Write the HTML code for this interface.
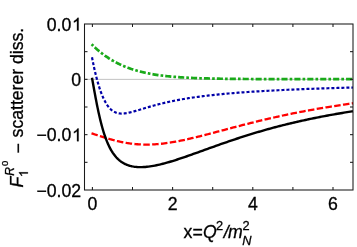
<!DOCTYPE html>
<html><head><meta charset="utf-8"><title>plot</title>
<style>
html,body{margin:0;padding:0;background:#fff;}
svg{display:block;will-change:transform;}
text{font-family:"Liberation Sans",sans-serif;font-size:17.7px;fill:#000;stroke:#000;stroke-width:0.3px;}
.it{font-style:italic;}
</style></head>
<body>
<svg width="357" height="247" viewBox="0 0 357 247">
<rect x="0" y="0" width="357" height="247" fill="#fff"/>
<line x1="84.5" y1="79.38" x2="353.0" y2="79.38" stroke="#b4b4b4" stroke-width="0.8"/>
<g fill="none" stroke-linejoin="round">
<path d="M91.60,44.25 L92.00,44.65 L92.40,45.05 L92.80,45.44 L93.20,45.83 L93.60,46.22 L94.00,46.60 L94.40,46.98 L94.80,47.35 L95.20,47.72 L95.60,48.09 L96.01,48.45 L96.41,48.81 L96.81,49.16 L97.21,49.52 L97.61,49.86 L98.01,50.21 L98.41,50.55 L98.81,50.89 L99.21,51.22 L99.61,51.55 L100.01,51.88 L100.41,52.20 L100.81,52.52 L101.21,52.84 L101.61,53.15 L102.01,53.46 L102.41,53.77 L102.81,54.07 L103.21,54.37 L103.61,54.67 L104.02,54.97 L104.42,55.26 L104.82,55.55 L105.22,55.83 L105.62,56.11 L106.02,56.39 L106.42,56.67 L106.82,56.94 L107.22,57.21 L107.62,57.48 L108.02,57.74 L108.42,58.00 L108.82,58.26 L109.22,58.52 L109.62,58.77 L110.02,59.02 L110.42,59.27 L110.82,59.51 L111.22,59.76 L111.62,60.00 L112.03,60.23 L112.43,60.47 L112.83,60.70 L113.23,60.93 L113.63,61.15 L114.03,61.38 L114.43,61.60 L114.83,61.82 L115.23,62.03 L115.63,62.25 L116.03,62.46 L116.43,62.67 L116.83,62.88 L117.23,63.08 L117.63,63.28 L118.03,63.48 L118.43,63.68 L118.83,63.88 L119.23,64.07 L119.63,64.26 L120.04,64.45 L120.44,64.64 L120.84,64.82 L121.24,65.00 L121.64,65.18 L122.04,65.36 L122.44,65.54 L122.84,65.71 L123.24,65.88 L123.64,66.05 L124.04,66.22 L124.44,66.39 L124.84,66.55 L125.24,66.72 L125.64,66.88 L126.04,67.03 L126.44,67.19 L126.84,67.35 L127.24,67.50 L127.64,67.65 L128.05,67.80 L128.45,67.95 L128.85,68.09 L129.25,68.24 L129.65,68.38 L130.05,68.52 L130.45,68.66 L130.85,68.80 L131.25,68.93 L131.65,69.07 L132.05,69.20 L132.45,69.33 L134.05,69.84 L135.65,70.32 L137.26,70.78 L138.86,71.22 L140.46,71.63 L142.06,72.03 L143.66,72.41 L145.27,72.76 L146.87,73.10 L148.47,73.43 L150.07,73.73 L151.67,74.02 L153.28,74.30 L154.88,74.56 L156.48,74.81 L158.08,75.05 L159.68,75.27 L161.29,75.48 L162.89,75.68 L164.49,75.87 L166.09,76.05 L167.69,76.22 L169.30,76.39 L170.90,76.54 L172.50,76.68 L174.10,76.82 L175.70,76.95 L177.31,77.07 L178.91,77.19 L180.51,77.30 L182.11,77.40 L183.71,77.50 L185.32,77.59 L186.92,77.68 L188.52,77.77 L190.12,77.84 L191.72,77.92 L193.33,77.99 L194.93,78.05 L196.53,78.12 L198.13,78.18 L199.73,78.23 L201.34,78.28 L202.94,78.33 L204.54,78.38 L206.14,78.43 L207.74,78.47 L209.35,78.51 L210.95,78.54 L212.55,78.58 L214.15,78.61 L215.75,78.64 L217.36,78.67 L218.96,78.70 L220.56,78.73 L222.16,78.75 L223.76,78.78 L225.37,78.80 L226.97,78.82 L228.57,78.84 L230.17,78.86 L231.77,78.87 L233.38,78.89 L234.98,78.91 L236.58,78.92 L238.18,78.93 L239.78,78.95 L241.39,78.96 L242.99,78.97 L244.59,78.98 L246.19,78.99 L247.79,79.00 L249.40,79.01 L251.00,79.02 L252.60,79.03 L254.20,79.04 L255.80,79.04 L257.41,79.05 L259.01,79.06 L260.61,79.06 L262.21,79.07 L263.81,79.07 L265.42,79.08 L267.02,79.08 L268.62,79.09 L270.22,79.09 L271.82,79.10 L273.43,79.10 L275.03,79.11 L276.63,79.11 L278.23,79.11 L279.83,79.11 L281.44,79.12 L283.04,79.12 L284.64,79.12 L286.24,79.13 L287.84,79.13 L289.45,79.13 L291.05,79.13 L292.65,79.13 L294.25,79.14 L295.85,79.14 L297.46,79.14 L299.06,79.14 L300.66,79.14 L302.26,79.14 L303.86,79.14 L305.47,79.15 L307.07,79.15 L308.67,79.15 L310.27,79.15 L311.87,79.15 L313.48,79.15 L315.08,79.15 L316.68,79.15 L318.28,79.15 L319.88,79.15 L321.49,79.15 L323.09,79.15 L324.69,79.16 L326.29,79.16 L327.89,79.16 L329.50,79.16 L331.10,79.16 L332.70,79.16 L334.30,79.16 L335.90,79.16 L337.51,79.16 L339.11,79.16 L340.71,79.16 L342.31,79.16 L343.91,79.16 L345.52,79.16 L347.12,79.16 L348.72,79.16 L350.32,79.16 L351.92,79.16 L353.00,79.16" stroke="#1aaa1a" stroke-width="2.7" stroke-dasharray="6.1 2.1 2.65 2.07" stroke-dashoffset="8.5"/>
<path d="M92.00,57.27 L92.40,59.37 L92.80,61.40 L93.20,63.38 L93.60,65.30 L94.00,67.16 L94.40,68.97 L94.80,70.73 L95.20,72.45 L95.60,74.11 L96.00,75.72 L96.41,77.29 L96.81,78.82 L97.21,80.30 L97.61,81.74 L98.01,83.14 L98.41,84.50 L98.81,85.81 L99.21,87.09 L99.61,88.32 L100.01,89.52 L100.41,90.68 L100.81,91.80 L101.21,92.88 L101.61,93.93 L102.01,94.94 L102.41,95.92 L102.81,96.86 L103.21,97.77 L103.61,98.64 L104.02,99.48 L104.42,100.29 L104.82,101.07 L105.22,101.81 L105.62,102.53 L106.02,103.21 L106.42,103.87 L106.82,104.50 L107.22,105.10 L107.62,105.67 L108.02,106.22 L108.42,106.74 L108.82,107.23 L109.22,107.70 L109.62,108.15 L110.02,108.57 L110.42,108.98 L110.82,109.36 L111.22,109.72 L111.62,110.05 L112.03,110.37 L112.43,110.67 L112.83,110.95 L113.23,111.21 L113.63,111.46 L114.03,111.69 L114.43,111.90 L114.83,112.10 L115.23,112.28 L115.63,112.45 L116.03,112.60 L116.43,112.74 L116.83,112.87 L117.23,112.98 L117.63,113.08 L118.03,113.17 L118.43,113.25 L118.83,113.32 L119.23,113.38 L119.63,113.43 L120.03,113.47 L120.44,113.50 L120.84,113.53 L121.24,113.54 L121.64,113.55 L122.04,113.55 L122.44,113.54 L122.84,113.53 L123.24,113.51 L123.64,113.48 L124.04,113.45 L124.44,113.41 L124.84,113.36 L125.24,113.31 L125.64,113.26 L126.04,113.20 L126.44,113.14 L126.84,113.07 L127.24,113.00 L127.64,112.93 L128.05,112.85 L128.45,112.77 L128.85,112.68 L129.25,112.60 L129.65,112.51 L130.05,112.41 L130.45,112.32 L130.85,112.22 L131.25,112.12 L131.65,112.02 L132.05,111.92 L132.45,111.81 L134.05,111.38 L135.65,110.92 L137.26,110.45 L138.86,109.97 L140.46,109.49 L142.06,109.00 L143.66,108.51 L145.27,108.03 L146.87,107.55 L148.47,107.08 L150.07,106.62 L151.67,106.16 L153.28,105.71 L154.88,105.27 L156.48,104.84 L158.08,104.43 L159.68,104.02 L161.29,103.62 L162.89,103.23 L164.49,102.85 L166.09,102.48 L167.69,102.12 L169.30,101.77 L170.90,101.42 L172.50,101.09 L174.10,100.77 L175.70,100.45 L177.31,100.15 L178.91,99.85 L180.51,99.56 L182.11,99.27 L183.71,99.00 L185.32,98.73 L186.92,98.47 L188.52,98.21 L190.12,97.97 L191.72,97.72 L193.33,97.49 L194.93,97.26 L196.53,97.03 L198.13,96.82 L199.73,96.60 L201.34,96.39 L202.94,96.19 L204.54,95.99 L206.14,95.80 L207.74,95.61 L209.35,95.43 L210.95,95.24 L212.55,95.07 L214.15,94.90 L215.75,94.73 L217.36,94.56 L218.96,94.40 L220.56,94.25 L222.16,94.09 L223.76,93.94 L225.37,93.79 L226.97,93.65 L228.57,93.51 L230.17,93.37 L231.77,93.23 L233.38,93.10 L234.98,92.97 L236.58,92.84 L238.18,92.72 L239.78,92.59 L241.39,92.47 L242.99,92.35 L244.59,92.24 L246.19,92.13 L247.79,92.01 L249.40,91.90 L251.00,91.80 L252.60,91.69 L254.20,91.59 L255.80,91.49 L257.41,91.39 L259.01,91.29 L260.61,91.19 L262.21,91.10 L263.81,91.00 L265.42,90.91 L267.02,90.82 L268.62,90.73 L270.22,90.65 L271.82,90.56 L273.43,90.48 L275.03,90.39 L276.63,90.31 L278.23,90.23 L279.83,90.15 L281.44,90.07 L283.04,90.00 L284.64,89.92 L286.24,89.85 L287.84,89.77 L289.45,89.70 L291.05,89.63 L292.65,89.56 L294.25,89.49 L295.85,89.42 L297.46,89.36 L299.06,89.29 L300.66,89.23 L302.26,89.16 L303.86,89.10 L305.47,89.04 L307.07,88.97 L308.67,88.91 L310.27,88.85 L311.87,88.79 L313.48,88.74 L315.08,88.68 L316.68,88.62 L318.28,88.57 L319.88,88.51 L321.49,88.46 L323.09,88.40 L324.69,88.35 L326.29,88.30 L327.89,88.24 L329.50,88.19 L331.10,88.14 L332.70,88.09 L334.30,88.04 L335.90,88.00 L337.51,87.95 L339.11,87.90 L340.71,87.85 L342.31,87.81 L343.91,87.76 L345.52,87.71 L347.12,87.67 L348.72,87.63 L350.32,87.58 L351.92,87.54 L353.00,87.51" stroke="#0000a8" stroke-width="2.2" stroke-dasharray="3 2"/>
<path d="M91.50,133.29 L91.90,133.42 L92.30,133.56 L92.70,133.69 L93.10,133.82 L93.50,133.96 L93.90,134.09 L94.30,134.22 L94.70,134.36 L95.10,134.49 L95.50,134.62 L95.91,134.76 L96.31,134.89 L96.71,135.02 L97.11,135.15 L97.51,135.28 L97.91,135.41 L98.31,135.55 L98.71,135.68 L99.11,135.81 L99.51,135.94 L99.91,136.07 L100.31,136.20 L100.71,136.33 L101.11,136.45 L101.51,136.58 L101.91,136.71 L102.31,136.84 L102.71,136.96 L103.11,137.09 L103.52,137.21 L103.92,137.34 L104.32,137.46 L104.72,137.59 L105.12,137.71 L105.52,137.83 L105.92,137.95 L106.32,138.07 L106.72,138.19 L107.12,138.31 L107.52,138.43 L107.92,138.55 L108.32,138.67 L108.72,138.78 L109.12,138.90 L109.52,139.02 L109.92,139.13 L110.32,139.24 L110.72,139.36 L111.12,139.47 L111.53,139.58 L111.93,139.69 L112.33,139.80 L112.73,139.90 L113.13,140.01 L113.53,140.12 L113.93,140.22 L114.33,140.32 L114.73,140.43 L115.13,140.53 L115.53,140.63 L115.93,140.73 L116.33,140.83 L116.73,140.92 L117.13,141.02 L117.53,141.12 L117.93,141.21 L118.33,141.30 L118.73,141.40 L119.13,141.49 L119.53,141.58 L119.94,141.66 L120.34,141.75 L120.74,141.84 L121.14,141.92 L121.54,142.01 L121.94,142.09 L122.34,142.17 L122.74,142.25 L123.14,142.33 L123.54,142.40 L123.94,142.48 L124.34,142.55 L124.74,142.63 L125.14,142.70 L125.54,142.77 L125.94,142.84 L126.34,142.91 L126.74,142.98 L127.14,143.04 L127.54,143.11 L127.95,143.17 L128.35,143.23 L128.75,143.29 L129.15,143.35 L129.55,143.41 L129.95,143.46 L130.35,143.52 L130.75,143.57 L131.15,143.62 L131.55,143.67 L131.95,143.72 L132.35,143.77 L132.45,143.78 L134.05,143.96 L135.65,144.12 L137.26,144.25 L138.86,144.36 L140.46,144.45 L142.06,144.52 L143.66,144.56 L145.27,144.59 L146.87,144.59 L148.47,144.58 L150.07,144.54 L151.67,144.48 L153.28,144.41 L154.88,144.31 L156.48,144.20 L158.08,144.07 L159.68,143.92 L161.29,143.76 L162.89,143.58 L164.49,143.38 L166.09,143.17 L167.69,142.95 L169.30,142.71 L170.90,142.46 L172.50,142.20 L174.10,141.92 L175.70,141.63 L177.31,141.33 L178.91,141.02 L180.51,140.70 L182.11,140.38 L183.71,140.04 L185.32,139.69 L186.92,139.34 L188.52,138.98 L190.12,138.61 L191.72,138.24 L193.33,137.86 L194.93,137.47 L196.53,137.08 L198.13,136.69 L199.73,136.29 L201.34,135.89 L202.94,135.48 L204.54,135.07 L206.14,134.66 L207.74,134.24 L209.35,133.82 L210.95,133.41 L212.55,132.98 L214.15,132.56 L215.75,132.14 L217.36,131.72 L218.96,131.29 L220.56,130.87 L222.16,130.44 L223.76,130.02 L225.37,129.59 L226.97,129.17 L228.57,128.74 L230.17,128.32 L231.77,127.90 L233.38,127.48 L234.98,127.06 L236.58,126.64 L238.18,126.22 L239.78,125.81 L241.39,125.39 L242.99,124.98 L244.59,124.57 L246.19,124.16 L247.79,123.76 L249.40,123.35 L251.00,122.95 L252.60,122.55 L254.20,122.16 L255.80,121.76 L257.41,121.37 L259.01,120.98 L260.61,120.60 L262.21,120.22 L263.81,119.84 L265.42,119.46 L267.02,119.08 L268.62,118.71 L270.22,118.34 L271.82,117.98 L273.43,117.61 L275.03,117.25 L276.63,116.90 L278.23,116.54 L279.83,116.19 L281.44,115.84 L283.04,115.50 L284.64,115.16 L286.24,114.82 L287.84,114.48 L289.45,114.15 L291.05,113.82 L292.65,113.49 L294.25,113.17 L295.85,112.85 L297.46,112.53 L299.06,112.21 L300.66,111.90 L302.26,111.59 L303.86,111.29 L305.47,110.98 L307.07,110.68 L308.67,110.39 L310.27,110.09 L311.87,109.80 L313.48,109.51 L315.08,109.23 L316.68,108.94 L318.28,108.66 L319.88,108.39 L321.49,108.11 L323.09,107.84 L324.69,107.57 L326.29,107.31 L327.89,107.04 L329.50,106.78 L331.10,106.53 L332.70,106.27 L334.30,106.02 L335.90,105.77 L337.51,105.52 L339.11,105.28 L340.71,105.03 L342.31,104.79 L343.91,104.56 L345.52,104.32 L347.12,104.09 L348.72,103.86 L350.32,103.63 L351.92,103.41 L353.00,103.26" stroke="#ff0000" stroke-width="2.3" stroke-dasharray="6.5 2.37"/>
<path d="M92.00,77.74 L92.40,79.99 L92.80,82.24 L93.20,84.50 L93.60,86.74 L94.00,88.98 L94.40,91.19 L94.80,93.39 L95.20,95.56 L95.60,97.70 L96.00,99.81 L96.41,101.88 L96.81,103.92 L97.21,105.92 L97.61,107.88 L98.01,109.80 L98.41,111.67 L98.81,113.51 L99.21,115.29 L99.61,117.04 L100.01,118.74 L100.41,120.39 L100.81,122.00 L101.21,123.56 L101.61,125.08 L102.01,126.56 L102.41,127.99 L102.81,129.39 L103.21,130.73 L103.61,132.04 L104.02,133.31 L104.42,134.54 L104.82,135.73 L105.22,136.88 L105.62,138.00 L106.02,139.08 L106.42,140.13 L106.82,141.14 L107.22,142.12 L107.62,143.06 L108.02,143.98 L108.42,144.86 L108.82,145.72 L109.22,146.55 L109.62,147.35 L110.02,148.12 L110.42,148.87 L110.82,149.59 L111.22,150.29 L111.62,150.97 L112.03,151.62 L112.43,152.25 L112.83,152.86 L113.23,153.44 L113.63,154.01 L114.03,154.56 L114.43,155.09 L114.83,155.60 L115.23,156.10 L115.63,156.57 L116.03,157.03 L116.43,157.48 L116.83,157.91 L117.23,158.32 L117.63,158.72 L118.03,159.11 L118.43,159.48 L118.83,159.84 L119.23,160.18 L119.63,160.52 L120.03,160.84 L120.44,161.15 L120.84,161.45 L121.24,161.73 L121.64,162.01 L122.04,162.28 L122.44,162.53 L122.84,162.78 L123.24,163.02 L123.64,163.25 L124.04,163.47 L124.44,163.68 L124.84,163.88 L125.24,164.08 L125.64,164.26 L126.04,164.44 L126.44,164.61 L126.84,164.78 L127.24,164.93 L127.64,165.08 L128.05,165.23 L128.45,165.36 L128.85,165.50 L129.25,165.62 L129.65,165.74 L130.05,165.85 L130.45,165.96 L130.85,166.06 L131.25,166.16 L131.65,166.25 L132.05,166.33 L132.45,166.41 L134.05,166.69 L135.65,166.89 L137.26,167.03 L138.86,167.11 L140.46,167.14 L142.06,167.12 L143.66,167.05 L145.27,166.95 L146.87,166.80 L148.47,166.62 L150.07,166.40 L151.67,166.16 L153.28,165.89 L154.88,165.59 L156.48,165.26 L158.08,164.92 L159.68,164.55 L161.29,164.16 L162.89,163.76 L164.49,163.34 L166.09,162.90 L167.69,162.45 L169.30,161.99 L170.90,161.51 L172.50,161.03 L174.10,160.53 L175.70,160.02 L177.31,159.50 L178.91,158.98 L180.51,158.44 L182.11,157.91 L183.71,157.36 L185.32,156.81 L186.92,156.25 L188.52,155.69 L190.12,155.13 L191.72,154.56 L193.33,153.99 L194.93,153.42 L196.53,152.85 L198.13,152.27 L199.73,151.69 L201.34,151.12 L202.94,150.54 L204.54,149.96 L206.14,149.38 L207.74,148.81 L209.35,148.23 L210.95,147.65 L212.55,147.08 L214.15,146.51 L215.75,145.94 L217.36,145.37 L218.96,144.80 L220.56,144.24 L222.16,143.68 L223.76,143.12 L225.37,142.56 L226.97,142.01 L228.57,141.46 L230.17,140.91 L231.77,140.37 L233.38,139.83 L234.98,139.29 L236.58,138.76 L238.18,138.24 L239.78,137.71 L241.39,137.19 L242.99,136.68 L244.59,136.16 L246.19,135.66 L247.79,135.15 L249.40,134.65 L251.00,134.16 L252.60,133.67 L254.20,133.18 L255.80,132.70 L257.41,132.22 L259.01,131.75 L260.61,131.28 L262.21,130.82 L263.81,130.36 L265.42,129.91 L267.02,129.46 L268.62,129.01 L270.22,128.57 L271.82,128.13 L273.43,127.70 L275.03,127.27 L276.63,126.85 L278.23,126.43 L279.83,126.01 L281.44,125.60 L283.04,125.20 L284.64,124.80 L286.24,124.40 L287.84,124.01 L289.45,123.62 L291.05,123.23 L292.65,122.85 L294.25,122.48 L295.85,122.10 L297.46,121.74 L299.06,121.37 L300.66,121.01 L302.26,120.66 L303.86,120.30 L305.47,119.96 L307.07,119.61 L308.67,119.27 L310.27,118.94 L311.87,118.60 L313.48,118.27 L315.08,117.95 L316.68,117.63 L318.28,117.31 L319.88,116.99 L321.49,116.68 L323.09,116.38 L324.69,116.07 L326.29,115.77 L327.89,115.47 L329.50,115.18 L331.10,114.89 L332.70,114.60 L334.30,114.32 L335.90,114.04 L337.51,113.76 L339.11,113.49 L340.71,113.21 L342.31,112.95 L343.91,112.68 L345.52,112.42 L347.12,112.16 L348.72,111.90 L350.32,111.65 L351.92,111.40 L353.00,111.23" stroke="#000" stroke-width="2.4"/>
</g>
<rect x="84.5" y="24.0" width="268.5" height="166.0" fill="none" stroke="#1a1a1a" stroke-width="1.05"/>
<g stroke="#1a1a1a" stroke-width="1.05"><line x1="92.40" y1="190.0" x2="92.40" y2="187.0"/><line x1="92.40" y1="24.0" x2="92.40" y2="27.0"/><line x1="132.50" y1="190.0" x2="132.50" y2="187.0"/><line x1="132.50" y1="24.0" x2="132.50" y2="27.0"/><line x1="172.60" y1="190.0" x2="172.60" y2="187.0"/><line x1="172.60" y1="24.0" x2="172.60" y2="27.0"/><line x1="212.70" y1="190.0" x2="212.70" y2="187.0"/><line x1="212.70" y1="24.0" x2="212.70" y2="27.0"/><line x1="252.80" y1="190.0" x2="252.80" y2="187.0"/><line x1="252.80" y1="24.0" x2="252.80" y2="27.0"/><line x1="292.90" y1="190.0" x2="292.90" y2="187.0"/><line x1="292.90" y1="24.0" x2="292.90" y2="27.0"/><line x1="333.00" y1="190.0" x2="333.00" y2="187.0"/><line x1="333.00" y1="24.0" x2="333.00" y2="27.0"/><line x1="84.5" y1="51.66" x2="87.5" y2="51.66"/><line x1="353.0" y1="51.66" x2="350.0" y2="51.66"/><line x1="84.5" y1="79.33" x2="87.5" y2="79.33"/><line x1="353.0" y1="79.33" x2="350.0" y2="79.33"/><line x1="84.5" y1="107.00" x2="87.5" y2="107.00"/><line x1="353.0" y1="107.00" x2="350.0" y2="107.00"/><line x1="84.5" y1="134.66" x2="87.5" y2="134.66"/><line x1="353.0" y1="134.66" x2="350.0" y2="134.66"/><line x1="84.5" y1="162.32" x2="87.5" y2="162.32"/><line x1="353.0" y1="162.32" x2="350.0" y2="162.32"/></g>
<g opacity="0.999"><text x="92.40" y="210.1" text-anchor="middle">0</text><text x="172.60" y="210.1" text-anchor="middle">2</text><text x="252.80" y="210.1" text-anchor="middle">4</text><text x="333.00" y="210.1" text-anchor="middle">6</text></g>
<g opacity="0.999"><text x="71.36" y="30.55" text-anchor="end">0.0</text><path d="M763 0H583V1147Q518 1085 412.5 1023T223 930V1104Q373 1174.5 485.5 1275T645 1470H763Z" transform="translate(72.00,30.55) scale(0.008643,-0.008643)" fill="#000" stroke="#000" stroke-width="34.7"/><text x="81.2" y="85.88" text-anchor="end">0</text><text x="71.36" y="141.21" text-anchor="end">−0.0</text><path d="M763 0H583V1147Q518 1085 412.5 1023T223 930V1104Q373 1174.5 485.5 1275T645 1470H763Z" transform="translate(72.00,141.21) scale(0.008643,-0.008643)" fill="#000" stroke="#000" stroke-width="34.7"/><text x="81.2" y="196.54" text-anchor="end">−0.02</text></g>
<g transform="translate(23.4,187) rotate(-90)" opacity="0.999">
<text x="-0.4" y="0" class="it">F</text>
<path d="M763 0H583V1147Q518 1085 412.5 1023T223 930V1104Q373 1174.5 485.5 1275T645 1470H763Z" transform="translate(10.00,4.50) scale(0.006104,-0.006104)" fill="#000" stroke="#000" stroke-width="49.2"/>
<text x="11.3" y="-9.4" class="it" style="font-size:12.1px">R</text>
<text x="20.9" y="-15.2" style="font-size:9.5px">0</text>
<text x="33.6" y="0.9">−</text>
<text x="49.6" y="0" style="letter-spacing:-0.03px">scatterer diss.</text>
</g>
<g opacity="0.999">
<text x="183.6" y="238.2">x=</text>
<text x="203.1" y="238.2" class="it">Q</text>
<text x="216.0" y="230.1" style="font-size:12.8px">2</text>
<text x="223.7" y="238.2" class="it">/</text>
<text x="227.9" y="238.2" class="it">m</text>
<text x="242.5" y="230.1" style="font-size:12.8px">2</text>
<text x="242.2" y="245.3" class="it" style="font-size:12.8px">N</text>
</g>
</svg>
</body></html>
